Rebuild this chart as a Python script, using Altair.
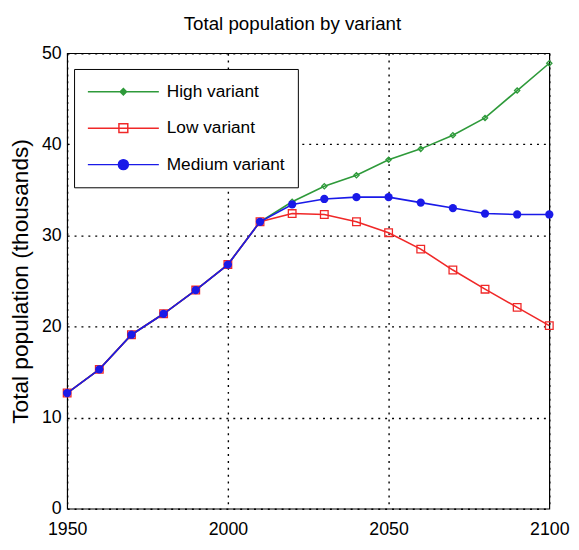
import altair as alt
import pandas as pd

years = [1950, 1960, 1970, 1980, 1990, 2000, 2010, 2020, 2030, 2040, 2050, 2060, 2070, 2080, 2090, 2100]
high = [12.7, 15.3, 19.1, 21.4, 24.0, 26.8, 31.5, 33.7, 35.4, 36.6, 38.3, 39.5, 41.0, 42.9, 45.9, 48.9]
low = [12.7, 15.3, 19.1, 21.4, 24.0, 26.8, 31.5, 32.4, 32.3, 31.5, 30.3, 28.5, 26.2, 24.1, 22.1, 20.1]
medium = [12.7, 15.3, 19.1, 21.4, 24.0, 26.8, 31.5, 33.4, 34.0, 34.2, 34.2, 33.6, 33.0, 32.4, 32.3, 32.3]

variants = ["High variant", "Low variant", "Medium variant"]
colors = ["#2e9a3a", "#f02828", "#1a1ae8"]
fills = ["#2e9a3a", "#ffffff", "#1a1ae8"]
legend_paths = [
    "M-1,0H1M0,-0.09L0.09,0L0,0.09L-0.09,0Z",
    "M-1,0H1M-0.125,-0.125H0.125V0.125H-0.125Z",
    "M-1,0H1M0.14,0A0.14,0.14,0,1,1,-0.14,0A0.14,0.14,0,1,1,0.14,0Z",
]

rows = []
for name, vals in zip(variants, [high, low, medium]):
    for yr, v in zip(years, vals):
        rows.append({"year": yr, "value": v, "variant": name})
df = pd.DataFrame(rows)

FONT = "Liberation Sans, Arial"

x = alt.X("year:Q", scale=alt.Scale(domain=[1950, 2100], nice=False, zero=False),
          axis=alt.Axis(values=[1950, 2000, 2050, 2100], format="d", title=None))
y = alt.Y("value:Q", scale=alt.Scale(domain=[0, 50], nice=False),
          axis=alt.Axis(values=[0, 10, 20, 30, 40, 50], title="Total population (thousands)"))

marker_specs = [
    dict(shape="diamond", filled=False, size=28, strokeWidth=1.3),
    dict(shape="square", filled=False, size=60, strokeWidth=1.3),
    dict(shape="circle", filled=True, size=70, strokeWidth=0),
]

layers = []
for name, c, ms in zip(variants, colors, marker_specs):
    base = alt.Chart(df).transform_filter(alt.datum.variant == name)
    layers.append(base.mark_line(color=c, strokeWidth=1.6).encode(x=x, y=y))
    layers.append(base.mark_point(color=c, opacity=1, **ms).encode(x=x, y=y))

legend_layer = alt.Chart(df).transform_filter("false").mark_point(filled=False, opacity=1, strokeWidth=1.5).encode(
    color=alt.Color("variant:N", scale=alt.Scale(domain=variants, range=colors),
                    legend=alt.Legend(title=None)),
    fill=alt.Fill("variant:N", scale=alt.Scale(domain=variants, range=fills),
                  legend=alt.Legend(title=None)),
    shape=alt.Shape("variant:N", scale=alt.Scale(domain=variants, range=legend_paths),
                    legend=alt.Legend(title=None)),
)

chart = alt.layer(*layers, legend_layer).properties(
    width=489, height=462,
    title=alt.Title("Total population by variant", fontSize=19, font=FONT, fontWeight="normal",
                    color="black", offset=11, dx=-16),
    autosize=alt.AutoSizeParams(type="none"),
    padding={"left": 60, "top": 42, "right": 22, "bottom": 38},
).configure_view(
    stroke="black", strokeWidth=1.2
).configure_axis(
    grid=True, gridColor="black", gridDash=[2, 5], gridWidth=1.4, gridOpacity=1,
    domain=False, ticks=False,
    labelFont=FONT, labelFontSize=18, labelColor="black", labelPadding=6,
    titleFont=FONT, titleFontSize=23, titleColor="black", titleFontWeight="normal",
    titlePadding=9,
).configure_axisX(labelFlush=False, labelPadding=12).configure_axisY(labelFlush=False).configure_legend(
    orient="none", legendX=7, legendY=16,
    strokeColor="black", fillColor="white", padding=13,
    symbolSize=5184, symbolStrokeWidth=1.5, labelOffset=7, clipHeight=20,
    labelFont=FONT, labelFontSize=17.5, labelColor="black", rowPadding=17,
    labelLimit=300,
)

chart.save("out.html", embed_options={"renderer": "svg", "actions": False})
